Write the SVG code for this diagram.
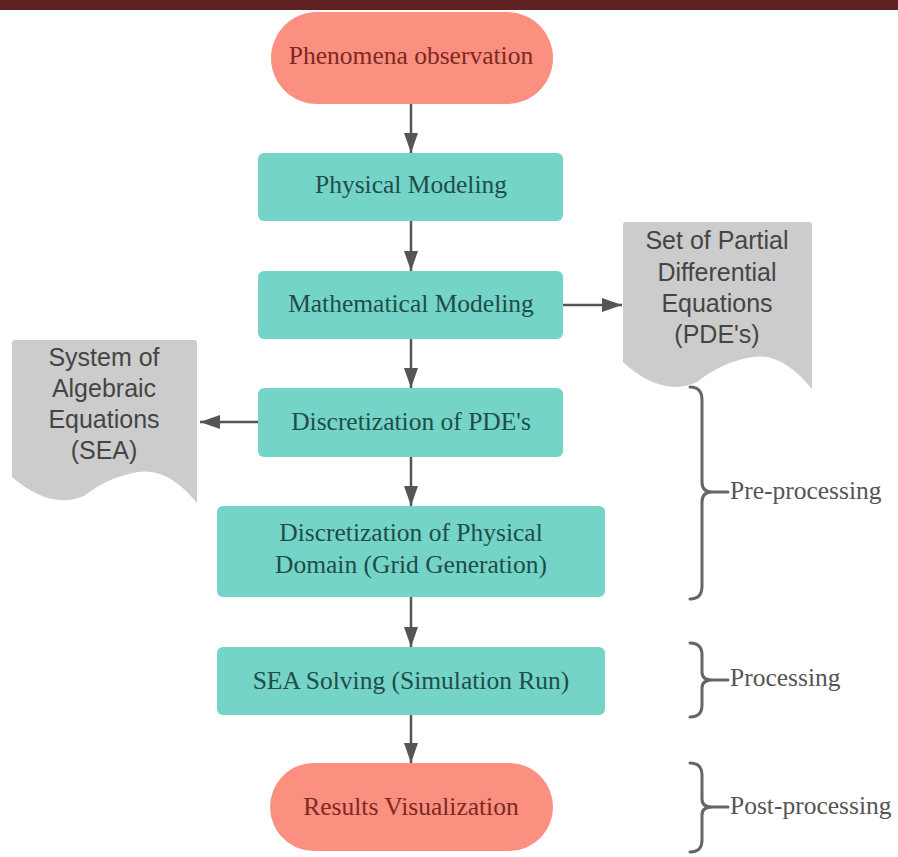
<svg xmlns="http://www.w3.org/2000/svg" width="898" height="857" viewBox="0 0 898 857">
<style>
.pill{fill:#fb8f80}
.box{fill:#74d4c8}
.doc{fill:#cccccc}
.st{font-family:"Liberation Serif",serif;font-size:25.5px;text-anchor:middle}
.pt{fill:#7a2a22}
.bt{fill:#1f4d48}
.dt{font-family:"Liberation Sans",Arial,sans-serif;font-size:25px;fill:#454545;text-anchor:middle}
.lab{font-family:"Liberation Serif",serif;font-size:25.5px;fill:#555555}
.conn{stroke:#555555;stroke-width:2.5;fill:none}
.brace{stroke:#666666;stroke-width:3;fill:none;stroke-linecap:round}
</style>
<defs>
<marker id="ah" markerUnits="userSpaceOnUse" markerWidth="20" markerHeight="14" refX="20" refY="7" orient="auto">
<path d="M0,0 L20,7 L0,14 Z" fill="#555555"/>
</marker>
</defs>
<rect x="0" y="0" width="898" height="10" fill="#5f2121"/>

<g id="connectors">
<line class="conn" x1="411" y1="104" x2="411" y2="153" marker-end="url(#ah)"/>
<line class="conn" x1="411" y1="221" x2="411" y2="271" marker-end="url(#ah)"/>
<line class="conn" x1="411" y1="339" x2="411" y2="388" marker-end="url(#ah)"/>
<line class="conn" x1="411" y1="457" x2="411" y2="506" marker-end="url(#ah)"/>
<line class="conn" x1="411" y1="597" x2="411" y2="647" marker-end="url(#ah)"/>
<line class="conn" x1="411" y1="715" x2="411" y2="763" marker-end="url(#ah)"/>
<line class="conn" x1="563" y1="305" x2="622" y2="305" marker-end="url(#ah)"/>
<line class="conn" x1="259" y1="422" x2="200" y2="422" marker-end="url(#ah)"/>
</g>

<g id="phenomena">
<rect class="pill" x="271" y="12" width="282" height="92" rx="46"/>
<text class="st pt" x="411" y="64">Phenomena observation</text>
</g>
<g id="physical">
<rect class="box" x="258" y="153" width="305" height="68" rx="6"/>
<text class="st bt" x="411" y="193">Physical Modeling</text>
</g>
<g id="mathematical">
<rect class="box" x="258" y="271" width="305" height="68" rx="6"/>
<text class="st bt" x="411" y="312">Mathematical Modeling</text>
</g>
<g id="discpde">
<rect class="box" x="258" y="388" width="305" height="69" rx="6"/>
<text class="st bt" x="411" y="430">Discretization of PDE's</text>
</g>
<g id="discdomain">
<rect class="box" x="217" y="506" width="388" height="91" rx="6"/>
<text class="st bt" x="411" y="541">Discretization of Physical</text>
<text class="st bt" x="411" y="573">Domain (Grid Generation)</text>
</g>
<g id="seasolving">
<rect class="box" x="217" y="647" width="388" height="68" rx="6"/>
<text class="st bt" x="411" y="689">SEA Solving (Simulation Run)</text>
</g>
<g id="results">
<rect class="pill" x="270" y="763" width="283" height="88" rx="44"/>
<text class="st pt" x="411" y="815">Results Visualization</text>
</g>

<g id="pde">
<path class="doc" d="M626,222 H809 Q812,222 812,225 V389 Q782,352 752,357 Q722,362 697,382 Q662,398 623,362 V225 Q623,222 626,222 Z"/>
<text class="dt" x="717" y="249">Set of Partial</text>
<text class="dt" x="717" y="281">Differential</text>
<text class="dt" x="717" y="312">Equations</text>
<text class="dt" x="717" y="343">(PDE's)</text>
</g>
<g id="sea">
<path class="doc" d="M15,340 H194 Q197,340 197,343 V503 Q168,467 138,472 Q108,477 84,496 Q50,510 12,477 V343 Q12,340 15,340 Z"/>
<text class="dt" x="104" y="366">System of</text>
<text class="dt" x="104" y="397">Algebraic</text>
<text class="dt" x="104" y="428">Equations</text>
<text class="dt" x="104" y="459">(SEA)</text>
</g>

<g id="preprocessing">
<path class="brace" d="M690,387 Q702,387 702,400 L702,482 Q702,492 712,492 Q702,492 702,502 L702,586 Q702,599 690,599 M712,492 H728"/>
<text class="lab" x="730" y="499">Pre-processing</text>
</g>
<g id="processing">
<path class="brace" d="M690,643 Q702,643 702,655 L702,672 Q702,680 712,680 Q702,680 702,688 L702,705 Q702,717 690,717 M712,680 H728"/>
<text class="lab" x="730" y="686">Processing</text>
</g>
<g id="postprocessing">
<path class="brace" d="M690,763 Q702,763 702,775 L702,799 Q702,807 712,807 Q702,807 702,815 L702,840 Q702,852 690,852 M712,807 H728"/>
<text class="lab" x="730" y="814">Post-processing</text>
</g>
</svg>
